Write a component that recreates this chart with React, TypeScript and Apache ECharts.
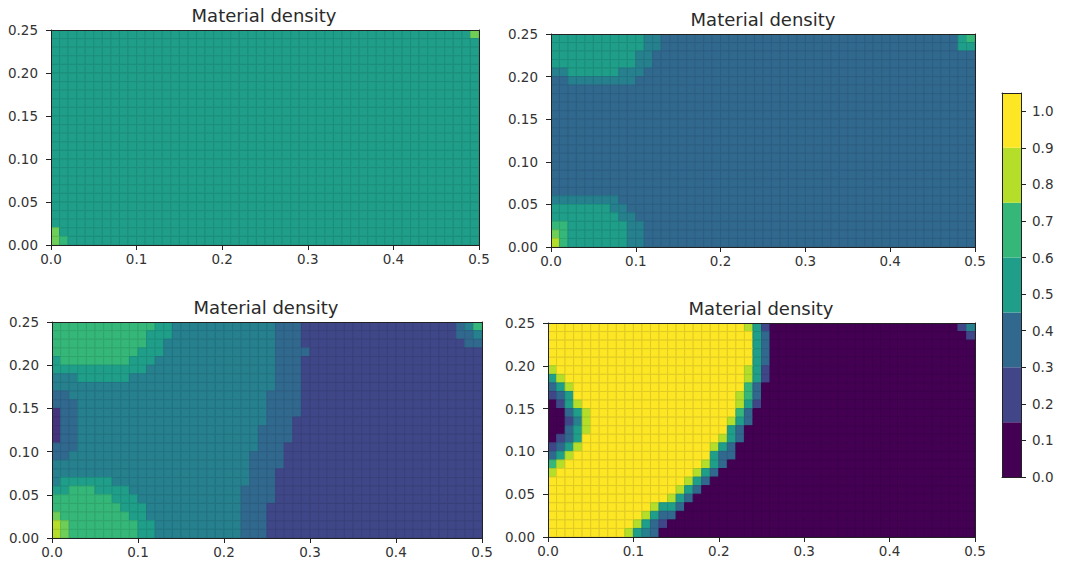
import React, { useEffect, useRef } from "react";
import * as echarts from "echarts";

const titleText = "Material density";
const xTicks = [0, 0.1, 0.2, 0.3, 0.4, 0.5];
const yTicks = [0, 0.05, 0.1, 0.15, 0.2, 0.25];
const colorbarTicks = [0, 0.1, 0.2, 0.3, 0.4, 0.5, 0.6, 0.7, 0.8, 0.9, 1.0];
const colorbarEdges = [0, 0.15, 0.3, 0.45, 0.6, 0.75, 0.9, 1.05];
const colorbarColors = ["#440154", "#404688", "#31688e", "#1f9e89", "#35b779", "#b5de2b", "#fde725"];
// density classes seen in the cells, low to high
const classColors = ["#440154", "#46337e", "#3f4788", "#31688e", "#26808e", "#1f9e89", "#35b779", "#6ece58", "#b5de2b", "#fde725"];
const classEdges = ["#3d014c", "#3f2e72", "#39407a", "#2c5e80", "#227380", "#1c8e7b", "#30a56d", "#63b94f", "#a3c827", "#e0cb24"];

// Each row, top to bottom, is "class:endColumn" runs across 50 columns.
const densityA = [
  "5:49 7:50",
  ...Array(22).fill("5:50"),
  "7:1 5:50",
  "7:1 6:2 5:50",
];
const densityB = [
  "5:11 4:13 3:48 5:49 6:50",
  "5:11 4:13 3:48 5:50",
  "5:10 4:12 3:50",
  "5:10 4:12 3:50",
  "4:2 5:8 4:11 3:50",
  "3:2 4:10 3:50",
  ...Array(13).fill("3:50"),
  "4:8 3:50",
  "5:7 4:9 3:50",
  "5:8 4:10 3:50",
  "6:2 5:9 4:11 3:50",
  "7:1 6:2 5:9 4:11 3:50",
  "8:1 6:2 5:9 4:11 3:50",
];
const densityC = [
  "6:12 5:14 4:26 3:29 2:47 3:48 4:49 6:50",
  "6:11 5:14 4:26 3:29 2:47 3:49 4:50",
  "6:11 5:13 4:26 3:29 2:48 3:50",
  "6:10 5:13 4:26 3:30 2:50",
  "5:1 6:9 5:12 4:26 3:29 2:50",
  "5:11 4:26 3:29 2:50",
  "4:3 5:9 4:26 3:29 2:50",
  "4:26 3:29 2:50",
  "3:2 4:25 3:29 2:50",
  "3:3 4:25 3:29 2:50",
  "1:1 3:3 4:25 3:29 2:50",
  "1:1 3:3 4:25 3:28 2:50",
  "1:1 3:3 4:24 3:28 2:50",
  "1:1 3:3 4:24 3:28 2:50",
  "3:3 4:24 3:27 2:50",
  "3:2 4:23 3:27 2:50",
  "4:23 3:27 2:50",
  "4:23 3:26 2:50",
  "4:1 5:7 4:23 3:26 2:50",
  "5:2 6:5 5:9 4:22 3:26 2:50",
  "6:7 5:10 4:22 3:26 2:50",
  "6:8 5:11 4:22 3:25 2:50",
  "7:1 6:9 5:11 4:22 3:25 2:50",
  "8:1 7:2 6:10 5:12 4:22 3:25 2:50",
  "8:1 7:2 6:10 5:12 4:22 3:25 2:50",
];
const densityD = [
  "9:23 8:24 5:25 2:26 0:48 2:49 4:50",
  "9:24 5:25 3:26 0:49 2:50",
  "9:24 5:25 3:26 0:50",
  "9:24 5:25 3:26 0:50",
  "9:24 5:25 3:26 0:50",
  "8:1 9:23 8:24 5:25 2:26 0:50",
  "5:1 8:2 9:23 8:24 5:25 2:26 0:50",
  "3:1 5:2 8:3 9:23 6:24 3:25 0:50",
  "2:1 3:2 5:3 9:22 8:23 6:24 3:25 0:50",
  "0:1 2:2 5:3 8:4 9:22 8:23 5:24 2:25 0:50",
  "0:2 3:3 5:4 8:5 9:22 6:23 3:24 0:50",
  "0:2 2:3 4:4 8:5 9:21 8:22 5:23 3:24 0:50",
  "0:2 3:3 5:4 8:5 9:21 5:22 3:23 0:50",
  "0:1 2:2 3:3 5:4 9:20 8:21 5:22 3:23 0:50",
  "2:1 3:2 5:3 8:4 9:19 8:20 5:21 3:22 0:50",
  "3:1 5:2 8:3 9:19 5:20 3:22 0:50",
  "6:1 8:2 9:18 8:19 5:20 3:21 0:50",
  "8:1 9:17 8:18 5:19 3:20 0:50",
  "9:16 8:17 5:18 3:19 0:50",
  "9:15 8:16 5:17 3:18 0:50",
  "9:14 8:15 5:16 3:17 0:50",
  "9:12 8:13 5:15 3:16 0:50",
  "9:11 8:12 5:13 3:15 0:50",
  "9:10 8:11 5:12 3:13 2:14 0:50",
  "9:9 8:10 5:11 4:12 3:13 0:50",
];

const cellSize = 0.01;

function toCells(rows: string[]) {
  const cells: number[][] = [];
  rows.forEach((row, r) => {
    let col = 0;
    row.split(" ").forEach((run) => {
      const [cls, end] = run.split(":").map(Number);
      for (; col < end; col++) cells.push([col * cellSize, (rows.length - 1 - r) * cellSize, cls]);
    });
  });
  return cells;
}

const panels = [
  { rows: densityA, left: 51, right: 479, top: 30, bottom: 245, titleX: 264, titleY: 6 },
  { rows: densityB, left: 551, right: 975, top: 34, bottom: 247, titleX: 763, titleY: 10 },
  { rows: densityC, left: 52, right: 482, top: 322, bottom: 538, titleX: 266, titleY: 298 },
  { rows: densityD, left: 548, right: 975, top: 323, bottom: 537, titleX: 761, titleY: 299 },
];

const font = "DejaVu Sans";
const lineStyle = { color: "#222", width: 1 };

export default function App() {
  const ref = useRef<HTMLDivElement>(null);
  useEffect(() => {
    const chart = echarts.init(ref.current!, undefined, { renderer: "svg" });
    const grid: any[] = [];
    const xAxis: any[] = [];
    const yAxis: any[] = [];
    const series: any[] = [];
    const title: any[] = [];
    panels.forEach((p, i) => {
      grid.push({ left: p.left, top: p.top, width: p.right - p.left, height: p.bottom - p.top });
      title.push({
        text: titleText, left: p.titleX, top: p.titleY, textAlign: "center", padding: 0,
        textStyle: { fontFamily: font, fontSize: 18, fontWeight: "normal", color: "#2a2a2a" },
      });
      const ax = xAxis.length;
      xAxis.push({
        type: "value", gridIndex: i, min: 0, max: 0.5, interval: 0.1, z: 5, position: "bottom",
        axisLine: { show: true, onZero: false, lineStyle },
        axisTick: { show: true, length: 5, lineStyle, customValues: xTicks },
        axisLabel: { show: true, margin: 7, fontFamily: font, fontSize: 13.5, color: "#333", customValues: xTicks, formatter: (v: number) => v.toFixed(1) },
        splitLine: { show: false },
      });
      xAxis.push({
        type: "value", gridIndex: i, min: 0, max: 0.5, z: 5, position: "top",
        axisLine: { show: true, onZero: false, lineStyle }, axisTick: { show: false }, axisLabel: { show: false }, splitLine: { show: false },
      });
      const ay = yAxis.length;
      yAxis.push({
        type: "value", gridIndex: i, min: 0, max: 0.25, interval: 0.05, z: 5, position: "left",
        axisLine: { show: true, onZero: false, lineStyle },
        axisTick: { show: true, length: 5, lineStyle, customValues: yTicks },
        axisLabel: { show: true, margin: 13, fontFamily: font, fontSize: 13.5, color: "#333", customValues: yTicks, formatter: (v: number) => v.toFixed(2) },
        splitLine: { show: false },
      });
      yAxis.push({
        type: "value", gridIndex: i, min: 0, max: 0.25, z: 5, position: "right",
        axisLine: { show: true, onZero: false, lineStyle }, axisTick: { show: false }, axisLabel: { show: false }, splitLine: { show: false },
      });
      series.push({
        type: "custom", xAxisIndex: ax, yAxisIndex: ay, encode: { x: 0, y: 1 }, clip: true, silent: true,
        data: toCells(p.rows),
        renderItem: (_: any, api: any) => {
          const x = api.value(0), y = api.value(1);
          const a = api.coord([x, y]);
          const b = api.coord([x + cellSize, y + cellSize]);
          return {
            type: "rect",
            shape: { x: a[0], y: b[1], width: b[0] - a[0], height: a[1] - b[1] },
            style: { fill: classColors[api.value(2)], stroke: classEdges[api.value(2)], lineWidth: 1 },
          };
        },
      });
    });

    // colour bar
    grid.push({ left: 1002, top: 93, width: 19, height: 384 });
    const cbx = xAxis.length;
    xAxis.push({ type: "value", gridIndex: 4, min: 0, max: 1, show: false });
    const cby = yAxis.length;
    yAxis.push({
      type: "value", gridIndex: 4, min: 0, max: 1.05, z: 5, position: "right",
      axisLine: { show: true, onZero: false, lineStyle },
      axisTick: { show: true, length: 5, lineStyle, customValues: colorbarTicks },
      axisLabel: { show: true, margin: 11, fontFamily: font, fontSize: 13.5, color: "#333", customValues: colorbarTicks, formatter: (v: number) => v.toFixed(1) },
      splitLine: { show: false },
    });
    yAxis.push({
      type: "value", gridIndex: 4, min: 0, max: 1.05, z: 5, position: "left",
      axisLine: { show: true, onZero: false, lineStyle }, axisTick: { show: false }, axisLabel: { show: false }, splitLine: { show: false },
    });
    xAxis.push({
      type: "value", gridIndex: 4, min: 0, max: 1, z: 5, position: "top",
      axisLine: { show: true, onZero: false, lineStyle }, axisTick: { show: false }, axisLabel: { show: false }, splitLine: { show: false },
    });
    xAxis.push({
      type: "value", gridIndex: 4, min: 0, max: 1, z: 5, position: "bottom",
      axisLine: { show: true, onZero: false, lineStyle }, axisTick: { show: false }, axisLabel: { show: false }, splitLine: { show: false },
    });
    series.push({
      type: "custom", xAxisIndex: cbx, yAxisIndex: cby, encode: { x: 0, y: 1 }, silent: true,
      data: colorbarColors.map((_, i) => [0, colorbarEdges[i], colorbarEdges[i + 1], i]),
      renderItem: (_: any, api: any) => {
        const a = api.coord([0, api.value(1)]);
        const b = api.coord([1, api.value(2)]);
        return {
          type: "rect",
          shape: { x: a[0], y: b[1], width: b[0] - a[0], height: a[1] - b[1] },
          style: { fill: colorbarColors[api.value(3)] },
        };
      },
    });

    chart.setOption({ animation: false, backgroundColor: "#fff", title, grid, xAxis, yAxis, series, tooltip: { show: false } });
    return () => chart.dispose();
  }, []);
  return <div ref={ref} style={{ position: "absolute", left: 0, top: 0, width: 1066, height: 566 }} />;
}
